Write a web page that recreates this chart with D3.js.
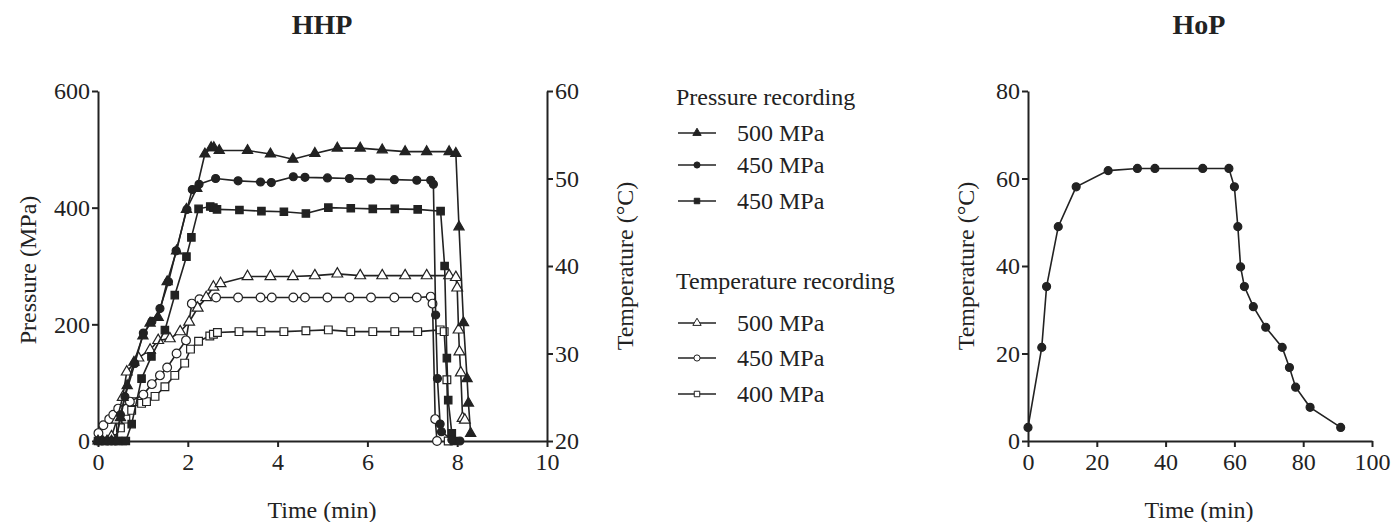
<!DOCTYPE html>
<html><head><meta charset="utf-8">
<script src="https://cdn.jsdelivr.net/npm/d3@7"></script>
<style>
body{margin:0;background:#fff;}
svg text{font-family:"Liberation Serif","Times New Roman",serif;fill:#222;}
</style></head>
<body><svg id="c" width="1391" height="522"></svg>
<script>
// ---- HHP: pressure recordings [time (min), pressure (MPa)]
const pressure500 = [[0,0],[0.1,0],[0.2,0],[0.3,0],[0.4,0],[0.5,40],[0.65,95],[0.8,135],[1.0,180],[1.16,202],[1.34,212],[1.54,273],[1.75,326],[1.97,397],[2.2,433],[2.38,492],[2.52,503],[2.58,503],[2.7,498],[3.33,498],[3.84,492],[4.34,483],[4.83,493],[5.33,502],[5.84,502],[6.33,499],[6.84,496],[7.32,496],[7.82,496],[7.97,493],[8.04,367],[8.14,203],[8.22,107],[8.25,65],[8.30,13]];
const pressure450 = [[0,0],[0.1,0],[0.2,0],[0.3,0],[0.4,0],[0.5,45],[0.6,76],[0.82,133],[1.01,185],[1.2,205],[1.38,227],[1.57,273],[1.74,326],[1.98,397],[2.1,431],[2.25,440],[2.62,450],[3.12,446],[3.62,444],[3.86,443],[4.35,453],[4.61,452],[5.11,451],[5.6,450],[6.08,449],[6.6,448],[7.1,447],[7.41,447],[7.47,440],[7.52,216],[7.56,107],[7.62,29],[7.65,16],[7.88,2],[8.06,0]];
const pressure400 = [[0,0],[0.15,0],[0.3,0],[0.45,0],[0.55,0],[0.62,0],[0.75,29],[0.97,107],[1.19,145],[1.49,190],[1.71,250],[1.97,316],[2.08,349],[2.24,398],[2.5,402],[2.57,400],[2.65,397],[3.15,396],[3.64,394],[4.14,393],[4.63,390],[5.13,400],[5.63,399],[6.12,398],[6.61,398],[7.12,397],[7.63,394],[7.72,300],[7.77,142],[7.8,70],[7.88,13],[7.93,0]];
// ---- HHP: temperature recordings [time (min), temperature (°C)]
const temp500 = [[0.3,20.5],[0.42,22.4],[0.55,25],[0.64,27.9],[0.9,29.5],[1.16,30.4],[1.34,31.5],[1.6,31.7],[1.83,32.5],[2.03,33.6],[2.22,35.2],[2.41,36.4],[2.57,37.6],[2.73,38.0],[3.33,38.8],[3.84,38.8],[4.34,38.8],[4.83,38.9],[5.33,39.1],[5.84,38.9],[6.33,38.9],[6.84,38.9],[7.32,38.9],[7.82,38.9],[7.97,38.7],[8.0,37.5],[8.03,32.7],[8.05,30.2],[8.08,27.8],[8.12,22.6],[8.17,22.4]];
const temp450 = [[0.01,20.9],[0.12,21.8],[0.25,22.5],[0.34,23.0],[0.45,23.7],[0.71,24.5],[1.01,25.3],[1.2,26.5],[1.38,27.5],[1.54,28.4],[1.75,30.0],[1.96,31.5],[2.09,35.7],[2.26,36.2],[2.63,36.4],[3.12,36.4],[3.62,36.4],[3.87,36.4],[4.35,36.4],[4.61,36.4],[5.11,36.4],[5.6,36.4],[6.08,36.4],[6.6,36.4],[7.1,36.4],[7.41,36.5],[7.45,35.7],[7.51,22.5],[7.55,20]];
const temp400 = [[0.35,20.3],[0.5,21.5],[0.62,22.5],[0.75,23.5],[0.8,24.5],[0.97,24.3],[1.08,24.5],[1.27,25.1],[1.49,26.2],[1.71,27.5],[1.93,28.9],[2.06,30.5],[2.24,31.4],[2.49,32.0],[2.57,32.2],[2.66,32.4],[3.14,32.5],[3.63,32.5],[4.14,32.5],[4.63,32.6],[5.13,32.7],[5.63,32.5],[6.12,32.5],[6.61,32.5],[7.12,32.5],[7.62,32.7],[7.71,32.5],[7.77,27.0],[7.8,20]];
// ---- HoP: [time (min), temperature (°C)]
const hopTemp = [[0,3.1],[4.0,21.4],[5.4,35.3],[8.8,49.0],[14.0,58.1],[23.3,61.8],[31.8,62.3],[36.9,62.3],[50.8,62.3],[58.4,62.3],[60.0,58.1],[61.0,49.0],[61.8,39.8],[62.9,35.3],[65.5,30.7],[69.1,26.0],[73.9,21.4],[76.0,16.8],[77.8,12.3],[82.0,7.7],[90.9,3.1]];

const hhpTimeTicks = [0,2,4,6,8,10];
const pressureTicks = [0,200,400,600];
const tempTicks = [20,30,40,50,60];
const hopTimeTicks = [0,20,40,60,80,100];
const hopTempTicks = [0,20,40,60,80];
const legendPressure = ["500 MPa","450 MPa","450 MPa"];
const legendTemp = ["500 MPa","450 MPa","400 MPa"];

const svg = d3.select("#c");
const INK = "#222";

// scales
const x1 = d3.scaleLinear().domain([0,10]).range([98,547]);
const yP = d3.scaleLinear().domain([0,600]).range([441,91]);
const yT = d3.scaleLinear().domain([20,60]).range([441,91]);
const x2 = d3.scaleLinear().domain([0,100]).range([1028,1372]);
const y2 = d3.scaleLinear().domain([0,80]).range([441,91]);

function styleAxis(g){
  g.selectAll(".domain").attr("stroke",INK).attr("stroke-width",2);
  g.selectAll(".tick line").attr("stroke",INK).attr("stroke-width",2);
  g.selectAll(".tick text").attr("font-family","Liberation Serif, serif").attr("font-size",24).attr("fill",INK);
}
function axis(gen, tx, ty){
  const g = svg.append("g").attr("transform",`translate(${tx},${ty})`).call(gen);
  styleAxis(g); return g;
}
axis(d3.axisBottom(x1).tickValues(hhpTimeTicks).tickSize(6).tickSizeOuter(0).tickPadding(6), 0, 441);
axis(d3.axisLeft(yP).tickValues(pressureTicks).tickSize(6).tickSizeOuter(0).tickPadding(2).tickFormat(d3.format("d")), 98, 0);
axis(d3.axisRight(yT).tickValues(tempTicks).tickSize(6).tickSizeOuter(0).tickPadding(2), 547, 0);
axis(d3.axisBottom(x2).tickValues(hopTimeTicks).tickSize(6).tickSizeOuter(0).tickPadding(6), 0, 441);
axis(d3.axisLeft(y2).tickValues(hopTempTicks).tickSize(6).tickSizeOuter(0).tickPadding(2), 1028, 0);

// titles & labels
function txt(s, x, y, opts={}){
  const t = svg.append("text").attr("x",x).attr("y",y).text(s)
    .attr("font-size",opts.size||24).attr("text-anchor",opts.anchor||"middle");
  if(opts.bold) t.attr("font-weight","bold");
  if(opts.rot) t.attr("transform",`rotate(-90,${x},${y})`);
  return t;
}
txt("HHP", 322, 34, {size:28, bold:true});
txt("HoP", 1199, 34, {size:28, bold:true});
txt("Time (min)", 322, 518);
txt("Time (min)", 1199, 518);
txt("Pressure (MPa)", 36, 270, {rot:true});
txt("Temperature (°C)", 633, 266, {rot:true});
txt("Temperature (°C)", 974, 266, {rot:true});

// series drawing
function series(data, xs, ys, sym, filled, size){
  const line = d3.line().x(d=>xs(d[0])).y(d=>ys(d[1]));
  svg.append("path").datum(data).attr("d",line).attr("fill","none").attr("stroke",INK).attr("stroke-width",1.6);
  svg.append("g").selectAll("path").data(data).join("path")
    .attr("transform",d=>`translate(${xs(d[0])},${ys(d[1])})`)
    .attr("d",d3.symbol().type(sym).size(size))
    .attr("fill",filled?INK:"#fff").attr("stroke",INK).attr("stroke-width",1.2);
}
series(temp400, x1, yT, d3.symbolSquare, false, 60);
series(temp450, x1, yT, d3.symbolCircle, false, 60);
series(temp500, x1, yT, d3.symbolTriangle, false, 50);
series(pressure400, x1, yP, d3.symbolSquare, true, 55);
series(pressure450, x1, yP, d3.symbolCircle, true, 50);
series(pressure500, x1, yP, d3.symbolTriangle, true, 45);
series(hopTemp, x2, y2, d3.symbolCircle, true, 50);

// legend
txt("Pressure recording", 676, 105, {anchor:"start"});
txt("Temperature recording", 676, 289, {anchor:"start"});
const legSyms = [d3.symbolTriangle, d3.symbolCircle, d3.symbolSquare];
function legendItem(label, y, sym, filled){
  svg.append("line").attr("x1",678).attr("x2",716).attr("y1",y).attr("y2",y).attr("stroke",INK).attr("stroke-width",1.6);
  svg.append("path").attr("transform",`translate(697,${y})`).attr("d",d3.symbol().type(sym).size(30))
    .attr("fill",filled?INK:"#fff").attr("stroke",INK).attr("stroke-width",1);
  txt(label, 737, y+8, {anchor:"start"});
}
legendPressure.forEach((l,i)=>legendItem(l, [133,165,201][i], legSyms[i], true));
legendTemp.forEach((l,i)=>legendItem(l, [323,358,394][i], legSyms[i], false));
</script></body></html>
